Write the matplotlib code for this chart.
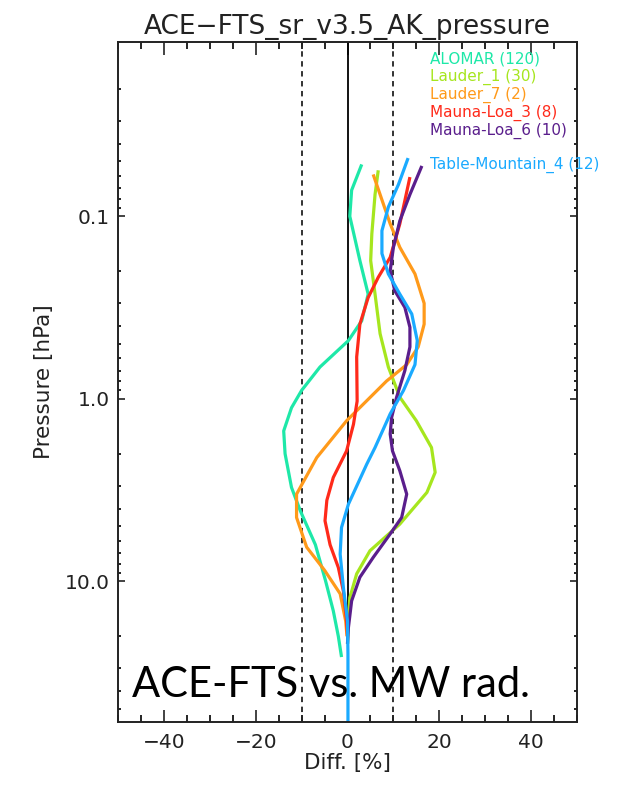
import matplotlib.pyplot as plt
import numpy as np
from matplotlib.ticker import FixedLocator, FixedFormatter, MultipleLocator

alomar_p = [0.052, 0.072, 0.10, 0.175, 0.267, 0.374, 0.48, 0.67, 0.90, 1.12, 1.50, 2.0, 3.06, 4.1, 6.3, 9.9, 14.5, 20.0, 26.0]
alomar_d = [3.1, 0.9, 0.5, 2.7, 4.5, 3.1, 0.2, -6.0, -10.0, -12.2, -13.9, -13.6, -12.2, -10.3, -7.0, -4.8, -3.1, -2.0, -1.3]

lauder1_p = [0.056, 0.076, 0.125, 0.175, 0.267, 0.44, 0.67, 0.98, 1.32, 1.85, 2.53, 3.26, 4.86, 6.8, 9.1, 12.3, 16.5, 22.0]
lauder1_d = [6.7, 6.0, 5.3, 5.05, 6.0, 7.1, 8.9, 11.4, 15.0, 18.3, 19.1, 17.3, 11.4, 4.9, 2.0, 0.5, 0.2, 0.0]

lauder7_p = [0.059, 0.076, 0.11, 0.148, 0.207, 0.30, 0.39, 0.52, 0.65, 0.80, 1.32, 2.1, 3.33, 4.47, 6.5, 8.7, 11.7, 16.5, 20.0]
lauder7_d = [5.6, 7.1, 9.3, 11.4, 14.7, 16.7, 16.7, 15.4, 12.9, 8.5, -0.2, -6.7, -11.1, -11.1, -8.9, -5.0, -1.6, -0.4, -0.1]

mlo3_p = [0.061, 0.082, 0.11, 0.168, 0.216, 0.279, 0.39, 0.59, 1.03, 1.38, 1.93, 2.7, 3.6, 4.66, 6.3, 8.4, 11.3, 16.5, 20.0]
mlo3_d = [13.6, 12.5, 11.4, 9.3, 6.7, 4.5, 2.7, 2.0, 2.1, 1.3, -0.2, -3.1, -4.5, -4.9, -3.8, -2.0, -0.9, -0.2, 0.0]

mlo6_p = [0.053, 0.076, 0.106, 0.148, 0.199, 0.256, 0.316, 0.406, 0.52, 0.70, 0.98, 1.27, 1.56, 1.93, 2.48, 3.33, 4.47, 5.5, 7.4, 9.5, 12.8, 17.9, 22.0]
mlo6_d = [16.2, 13.6, 11.4, 10.0, 9.3, 10.3, 12.5, 13.6, 13.6, 12.5, 10.7, 9.6, 9.3, 9.8, 11.4, 12.9, 11.8, 9.3, 5.6, 2.7, 0.9, 0.2, 0.0]

tmf4_p = [0.048, 0.067, 0.089, 0.12, 0.16, 0.207, 0.267, 0.343, 0.48, 0.65, 0.90, 1.21, 1.85, 2.28, 3.78, 5.07, 7.1, 10.8, 16.5, 25.0, 60.0]
tmf4_d = [13.2, 11.1, 8.9, 7.5, 7.5, 8.9, 11.4, 14.0, 15.2, 14.7, 12.2, 9.3, 6.0, 4.2, 0.2, -1.3, -1.6, -0.9, 0.0, 0.1, 0.1]

stations = ['ALOMAR (120)', 'Lauder_1 (30)', 'Lauder_7 (2)', 'Mauna-Loa_3 (8)', 'Mauna-Loa_6 (10)', 'Table-Mountain_4 (12)']
colors = ['#1EE8A8', '#A6E61E', '#FF9A1A', '#FF2A1A', '#5A1E8C', '#1AAAFF']
label_ypix = [59, 77, 95, 113, 131, 165]

profiles = [(alomar_p, alomar_d), (lauder1_p, lauder1_d), (lauder7_p, lauder7_d),
            (mlo3_p, mlo3_d), (mlo6_p, mlo6_d), (tmf4_p, tmf4_d)]

fig = plt.figure(figsize=(6.43, 7.88), dpi=100)
ax = fig.add_axes([118 / 643, 1 - 722 / 788, 459 / 643, 680 / 788])

txt = '#222222'
ax.axvline(0, color='black', lw=1.3)
ax.axvline(-10, color='#222222', lw=1.3, ls=(0, (3, 2.5)))
ax.axvline(10, color='#222222', lw=1.3, ls=(0, (3, 2.5)))

for (p, d), c in zip(profiles, colors):
    ax.plot(d, p, color=c, lw=2.3, solid_capstyle='butt')

for s, c, yp in zip(stations, colors, label_ypix):
    ax.text(0.68, 1 - (yp - 42) / 680, s, color=c, fontsize=11, transform=ax.transAxes, va='center', ha='left')

ax.set_yscale('log')
ax.set_ylim(59, 0.0111)
ax.set_xlim(-50, 50)

ax.yaxis.set_major_locator(FixedLocator([0.1, 1.0, 10.0]))
ax.yaxis.set_major_formatter(FixedFormatter(['0.1', '1.0', '10.0']))
minor = [m * 10.0 ** e for e in (-2, -1, 0, 1) for m in range(2, 10)] + [0.01]
ax.yaxis.set_minor_locator(FixedLocator(minor))
ax.yaxis.set_minor_formatter(FixedFormatter([''] * len(minor)))
ax.xaxis.set_major_locator(MultipleLocator(20))
ax.xaxis.set_minor_locator(MultipleLocator(5))
ax.xaxis.set_major_formatter(plt.FuncFormatter(lambda v, pos: '%d' % v if v >= 0 else '\u2212%d' % -v))

ax.tick_params(axis='x', which='major', direction='in', length=9, width=1.2, top=True, labelsize=14.5, colors=txt, pad=8)
ax.tick_params(axis='x', which='minor', direction='in', length=5, width=1.2, top=True)
ax.tick_params(axis='y', which='major', direction='in', length=5, width=1.2, right=True, labelsize=14.5, colors=txt, pad=6)
ax.tick_params(axis='y', which='minor', direction='in', length=2.5, width=1.2, right=True)
for sp in ax.spines.values():
    sp.set_linewidth(1.4)
    sp.set_color(txt)

ax.set_xlabel('Diff. [%]', fontsize=15.5, color=txt, labelpad=1)
ax.set_ylabel('Pressure [hPa]', fontsize=15.5, color=txt, labelpad=8)
ax.set_title('ACE\u2212FTS_sr_v3.5_AK_pressure', fontsize=19, color=txt, pad=6)

fig.text(132 / 643, 1 - 697 / 788, 'ACE-FTS vs. MW rad.', fontsize=30, color='black',
         family='Lato', va='baseline', ha='left')

fig.savefig('out.png', dpi=100)
